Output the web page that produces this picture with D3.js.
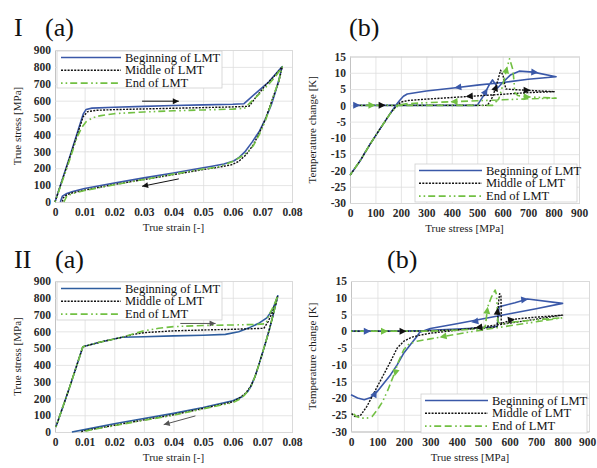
<!DOCTYPE html>
<html>
<head>
<meta charset="utf-8">
<script src="https://cdn.jsdelivr.net/npm/d3@7"></script>
<style>
body { margin: 0; background: #fff; }
</style>
</head>
<body>
<svg id="chart" width="597" height="468"></svg>
<script>
var FONT = '"Liberation Serif", "DejaVu Serif", "Times New Roman", serif';

// ---- tick values / labels ----
var strainTicks = [0, 0.01, 0.02, 0.03, 0.04, 0.05, 0.06, 0.07, 0.08];
var stressTicks = [0, 100, 200, 300, 400, 500, 600, 700, 800, 900];
var tempTicks = [-30, -25, -20, -15, -10, -5, 0, 5, 10, 15];
var seriesNames = ['Beginning of LMT', 'Middle of LMT', 'End of LMT'];

// ---- I (a): true strain vs true stress ----
var Ia_begin = [[0,0],[0.005,270],[0.0095,520],[0.0105,548],[0.0125,556],[0.02,561],[0.03,566],[0.04,571],[0.05,575],[0.06,579],[0.0638,582],[0.0677,643],[0.0722,712],[0.0767,802],
	[0.0755,720],[0.0744,652],[0.073,575],[0.0711,494],[0.069,420],[0.0666,356],[0.064,295],[0.062,262],[0.0603,243],[0.057,225],[0.053,212],[0.05,203],[0.04,172],[0.03,143],[0.02,113],[0.01,80],[0.006,62],[0.004,50],[0.0025,35],[0.0018,0]];
var Ia_mid = [[0,0],[0.005,265],[0.0095,505],[0.011,535],[0.014,543],[0.02,547],[0.03,551],[0.04,555],[0.05,559],[0.06,563],[0.0655,567],[0.068,625],[0.071,690],[0.074,745],[0.0767,800],
	[0.0755,710],[0.074,640],[0.0725,565],[0.071,490],[0.069,410],[0.067,340],[0.0645,280],[0.062,240],[0.0595,220],[0.055,205],[0.05,192],[0.04,162],[0.03,133],[0.02,104],[0.01,70],[0.006,55],[0.004,42],[0.0028,25],[0.0025,0]];
var Ia_end = [[0,0],[0.004,200],[0.0075,385],[0.009,440],[0.0105,475],[0.0125,497],[0.015,510],[0.02,523],[0.03,533],[0.04,540],[0.05,545],[0.06,550],[0.064,555],[0.066,590],[0.069,640],[0.072,695],[0.0745,745],[0.0767,800],
	[0.0755,715],[0.074,640],[0.0725,560],[0.071,480],[0.069,400],[0.067,335],[0.065,295],[0.0625,265],[0.06,240],[0.055,207],[0.05,195],[0.04,165],[0.03,133],[0.02,102],[0.01,68],[0.006,50],[0.004,35],[0.003,0]];
var Ia_arrows = [[0.0294,597,0.0418,597],[0.0418,137,0.0294,93]];

// ---- I (b): true stress vs temperature change ----
var Ib_begin = [[25,0],[100,0],[200,0],[300,0],[400,0],[500,0],[525,3],[545,6],[560,7.8],[572,6.5],[580,5.3],[600,7],[630,9.3],[665,10.5],[720,10.2],[810,8.8],
	[700,8],[600,7],[500,6.2],[415,5.4],[300,4.4],[225,3.5],[210,2.8],[195,1.5],[180,0],[160,-2.3],[120,-7],[80,-11.8],[40,-17],[0,-21.5]];
var Ib_mid = [[25,0],[300,0],[540,0],[560,2.5],[575,6],[592,10.8],[602,9],[608,6.5],[613,5],[650,4.8],[700,4.6],[805,4.2],
	[700,3.9],[600,3.4],[500,2.9],[400,2.4],[300,1.9],[230,1.5],[200,1],[185,0],[160,-2.3],[120,-7],[80,-11.8],[40,-17],[0,-21.5]];
var Ib_end = [[25,0],[300,0],[560,0],[585,2],[600,6],[615,11],[627,14.3],[640,11],[645,7],[647,4],[660,3],[700,2.6],[810,2.2],
	[700,2],[600,1.7],[500,1.4],[400,1.1],[300,0.8],[220,0.5],[190,0],[160,-2.3],[120,-7],[80,-11.8],[40,-17],[0,-21.5]];
var Ib_arrows = [
	[[20,0,40,0],[720,10.2,740,10.1],[430,5.6,410,5.4],[530,3.8,540,5.2]],
	[[120,0,140,0],[690,4.6,710,4.6],[475,2.8,455,2.7],[570,4.8,578,6.5]],
	[[80,0,100,0],[690,2.6,710,2.55],[415,1.15,395,1.1],[612,10,618,12]]
];

// ---- II (a) ----
var IIa_begin = [[0.0003,30],[0.005,270],[0.0094,508],[0.015,535],[0.0226,565],[0.03,568],[0.04,573],[0.05,577],[0.0575,582],[0.062,598],[0.066,625],[0.069,650],[0.0715,680],[0.0735,730],[0.0752,812],
	[0.0745,760],[0.0735,690],[0.0725,620],[0.0712,540],[0.07,470],[0.0688,400],[0.0675,330],[0.0662,275],[0.065,240],[0.0632,210],[0.06,186],[0.05,146],[0.04,111],[0.03,80],[0.02,49],[0.01,14],[0.0057,0]];
var IIa_mid = [[0.0003,30],[0.005,270],[0.0094,508],[0.015,535],[0.022,562],[0.026,580],[0.03,592],[0.04,603],[0.05,608],[0.06,612],[0.0705,618],[0.072,660],[0.0735,720],[0.0752,812],
	[0.0745,760],[0.0735,690],[0.0725,620],[0.0712,540],[0.07,470],[0.0688,400],[0.0675,330],[0.066,270],[0.064,225],[0.062,200],[0.06,180],[0.05,140],[0.04,103],[0.03,72],[0.02,40],[0.01,8],[0.0085,0]];
var IIa_end = [[0.0003,30],[0.005,270],[0.0094,508],[0.015,535],[0.022,562],[0.025,577],[0.03,603],[0.035,618],[0.04,628],[0.05,635],[0.06,638],[0.068,641],[0.0712,645],[0.0722,697],[0.0738,750],[0.0752,812],
	[0.0745,760],[0.0735,690],[0.0725,620],[0.0712,540],[0.07,470],[0.0688,400],[0.0675,330],[0.066,265],[0.064,220],[0.062,192],[0.06,175],[0.05,138],[0.04,100],[0.03,70],[0.02,38],[0.012,12],[0.009,0]];
var IIa_arrows = [[0.0423,647,0.0542,647],[0.0474,96,0.0367,44]];

// ---- II (b) ----
var IIb_begin = [[0,0],[100,0],[200,0],[280,0.2],[400,0.6],[500,1],[553,1.4],[556,4],[560,7.3],[575,7.6],[620,8.5],[668,9.6],[800,8.3],
	[700,6.7],[600,5.2],[500,3.7],[400,2.2],[300,0.8],[260,-0.3],[250,-1.5],[225,-4],[200,-6.5],[175,-10],[150,-13],[125,-15.5],[100,-18],[75,-19.8],[50,-20.5],[25,-20],[0,-19]];
var IIb_mid = [[0,0],[270,0],[400,0.4],[500,0.9],[552,1.3],[555,4],[557,8],[562,11.2],[567,10.5],[568,6],[568,2.2],[575,2.5],[620,3.6],[700,4.2],[800,4.8],
	[700,3.6],[600,2.4],[500,1.3],[400,0.3],[300,-0.6],[260,-1.2],[230,-1.8],[200,-3],[175,-5],[150,-9],[130,-12],[100,-16.5],[60,-22.5],[35,-25.3],[15,-25.5],[0,-24.5]];
var IIb_end = [[0,0],[300,0],[400,0.3],[500,0.8],[508,1.5],[517,7.3],[530,10],[545,12.3],[550,11],[553,7],[555,3],[565,2],[620,2.8],[700,3.4],[800,4],
	[700,2.8],[600,1.6],[500,0.4],[400,-0.9],[300,-2.3],[250,-3],[220,-3.8],[200,-5.5],[180,-9],[160,-13.5],[140,-17.5],[120,-21],[100,-23.5],[80,-25.5],[60,-26],[40,-26],[20,-25.5],[0,-24]];
var IIb_arrows = [
	[[55,0,75,0],[650,9.4,670,9.6],[475,3,455,2.7],[93,-18.3,97,-17.7]],
	[[190,0,210,0],[553,5,555,7],[605,3.4,620,3.6],[490,1.2,470,1]],
	[[120,0,140,0],[513,5,517,7.3],[355,-1.5,335,-1.8],[172,-11,165,-13.5]]
];

var colors = ['#3a58a8', '#111111', '#72c043'];
var dashes = [null, '2,1.3', '1.6,3,1.6,3,7,3.5,7,3.5'];
var widths = [1.6, 1.4, 1.6];

var svg = d3.select('#chart');

// panel titles
[['I', 14, 36], ['(a)', 45, 36], ['(b)', 349, 36], ['II', 14, 268], ['(a)', 55, 268], ['(b)', 387, 268]].forEach(function(t) {
	svg.append('text')
		.attr('x', t[1]).attr('y', t[2])
		.text(t[0])
		.style('font-family', FONT)
		.style('font-size', '26px')
		.style('fill', '#111');
});

/**
 * Draws one panel
 */
function draw_panel(p) {
	var x = d3.scaleLinear().domain(p.xDomain).range([p.left, p.right]);
	var y = d3.scaleLinear().domain(p.yDomain).range([p.bottom, p.top]);
	var g = svg.append('g');

	// grid + ticks
	var gx = g.append('g')
		.attr('transform', 'translate(0,' + p.bottom + ')')
		.call(d3.axisBottom(x).tickValues(p.xTicks).tickSize(-(p.bottom - p.top)).tickPadding(6).tickFormat(p.xFormat));
	var gy = g.append('g')
		.attr('transform', 'translate(' + p.left + ',0)')
		.call(d3.axisLeft(y).tickValues(p.yTicks).tickSize(-(p.right - p.left)).tickPadding(4).tickFormat(function(d) { return String(d); }));
	[gx, gy].forEach(function(a) {
		a.attr('font-family', null);
		a.select('.domain').attr('stroke', '#bdbdbd').attr('stroke-width', 0.8);
		a.selectAll('.tick line').attr('stroke', '#dedede').attr('stroke-width', 0.8);
		a.selectAll('.tick text')
			.style('font-family', FONT)
			.style('font-size', '11.5px')
			.style('font-weight', 'bold')
			.style('fill', '#2a2a2a');
	});
	if (p.lastTickShift) {
		gx.selectAll('.tick text').filter(function(d, i, n) { return i === n.length - 1; })
			.attr('dx', -p.lastTickShift);
	}

	// axis titles
	g.append('text')
		.attr('text-anchor', 'middle')
		.attr('x', (p.left + p.right) / 2)
		.attr('y', p.bottom + 29)
		.text(p.xLabel)
		.style('font-family', FONT)
		.style('font-size', '11px')
		.style('fill', '#222');
	g.append('text')
		.attr('text-anchor', 'middle')
		.attr('transform', 'translate(' + p.yLabelX + ',' + (p.top + p.bottom) / 2 + ') rotate(-90)')
		.text(p.yLabel)
		.style('font-family', FONT)
		.style('font-size', '11px')
		.style('fill', '#222');

	// curves
	var line = d3.line().x(function(d) { return x(d[0]); }).y(function(d) { return y(d[1]); });
	p.series.forEach(function(s, i) {
		g.append('path')
			.datum(s)
			.attr('d', line)
			.attr('fill', 'none')
			.attr('stroke', p.colors ? p.colors[i] : colors[i])
			.attr('stroke-width', widths[i])
			.attr('stroke-dasharray', dashes[i])
			.attr('stroke-linejoin', 'round');
	});

	// arrows
	var head = function(x1, y1, x2, y2, col, size) {
		var a = Math.atan2(y2 - y1, x2 - x1);
		var pts = [[0, 0], [-size, -size * 0.5], [-size, size * 0.5]].map(function(q) {
			return [x2 + q[0] * Math.cos(a) - q[1] * Math.sin(a), y2 + q[0] * Math.sin(a) + q[1] * Math.cos(a)];
		});
		g.append('path').attr('d', 'M' + pts.join('L') + 'Z').attr('fill', col);
	};
	if (p.arrowLines) {
		p.arrowLines.forEach(function(a) {
			var x1 = x(a[0]), y1 = y(a[1]), x2 = x(a[2]), y2 = y(a[3]);
			g.append('line')
				.attr('x1', x1).attr('y1', y1).attr('x2', x2).attr('y2', y2)
				.attr('stroke', p.arrowColor).attr('stroke-width', 1);
			head(x1, y1, x2, y2, p.arrowColor, 6);
		});
	}
	if (p.markers) {
		p.markers.forEach(function(list, i) {
			list.forEach(function(a) {
				head(x(a[0]), y(a[1]), x(a[2]), y(a[3]), colors[i], 7);
			});
		});
	}

	// legend
	var L = p.legend;
	g.append('rect')
		.attr('x', L.x).attr('y', L.y).attr('width', L.w).attr('height', L.h)
		.attr('fill', '#fff').attr('stroke', '#cfcfcf').attr('stroke-width', 0.8);
	seriesNames.forEach(function(name, i) {
		var yy = L.y + 6.5 + i * 12.8;
		g.append('line')
			.attr('x1', L.x + 4).attr('x2', L.x + 4 + L.lineW)
			.attr('y1', yy).attr('y2', yy)
			.attr('stroke', p.colors ? p.colors[i] : colors[i])
			.attr('stroke-width', widths[i])
			.attr('stroke-dasharray', dashes[i]);
		g.append('text')
			.attr('x', L.x + 8 + L.lineW)
			.attr('y', yy + 4)
			.text(name)
			.style('font-family', FONT)
			.style('font-size', '12.5px')
			.style('fill', '#111');
	});
}

var fmtStrain = function(d) { return d === 0 ? '0' : d.toFixed(2); };
var fmtInt = function(d) { return String(d); };

draw_panel({
	left: 55, right: 292, top: 50, bottom: 202,
	xDomain: [0, 0.08], yDomain: [0, 900], xTicks: strainTicks, yTicks: stressTicks, xFormat: fmtStrain,
	xLabel: 'True strain [-]', yLabel: 'True stress [MPa]', yLabelX: 21,
	series: [Ia_begin, Ia_mid, Ia_end],
	arrowLines: Ia_arrows, arrowColor: '#111',
	legend: {x: 57, y: 51, w: 165, h: 37, lineW: 60}
});

draw_panel({
	left: 350, right: 579, top: 56.5, bottom: 203,
	xDomain: [0, 900], yDomain: [-30, 15], xTicks: stressTicks, yTicks: tempTicks, xFormat: fmtInt,
	xLabel: 'True stress [MPa]', yLabel: 'Temperature change [K]', yLabelX: 316,
	series: [Ib_begin, Ib_mid, Ib_end],
	markers: Ib_arrows,
	legend: {x: 415, y: 164, w: 162, h: 38, lineW: 63}
});

draw_panel({
	left: 55, right: 292, top: 281, bottom: 432,
	xDomain: [0, 0.08], yDomain: [0, 900], xTicks: strainTicks, yTicks: stressTicks, xFormat: fmtStrain,
	xLabel: 'True strain [-]', yLabel: 'True stress [MPa]', yLabelX: 21,
	colors: ['#2e5d9e', '#111111', '#72c043'],
	series: [IIa_begin, IIa_mid, IIa_end],
	arrowLines: IIa_arrows, arrowColor: '#555',
	legend: {x: 57, y: 282, w: 165, h: 38, lineW: 60}
});

draw_panel({
	left: 351, right: 589, top: 281, bottom: 431.5,
	xDomain: [0, 900], yDomain: [-30, 15], xTicks: stressTicks, yTicks: tempTicks, xFormat: fmtInt,
	xLabel: 'True stress [MPa]', yLabel: 'Temperature change [K]', yLabelX: 316,
	series: [IIb_begin, IIb_mid, IIb_end],
	markers: IIb_arrows, lastTickShift: 2,
	legend: {x: 421, y: 394, w: 166, h: 39, lineW: 63}
});
</script>
</body>
</html>
